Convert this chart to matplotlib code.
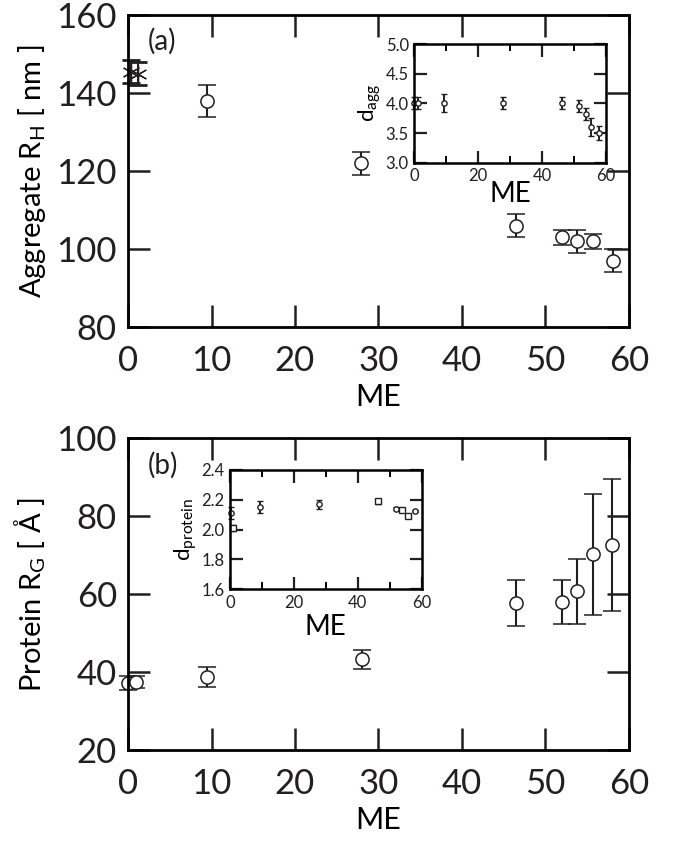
import matplotlib
matplotlib.use("Agg")
import matplotlib.pyplot as plt

plt.rcParams.update({
    "font.family": ["Lato", "DejaVu Sans"],
    "mathtext.fontset": "custom",
    "mathtext.rm": "Lato",
    "mathtext.it": "Lato:italic",
    "axes.linewidth": 2.0,
    "text.color": "#231f20",
})
INK = "#231f20"

# (a) aggregate hydrodynamic radius vs ME
me_star = [0.3, 1.2]
rh_star = [145.5, 145.0]
rh_star_err = [3.0, 3.0]
me_a = [9.4, 27.9, 46.5, 52.0, 53.8, 55.7, 58.1]
rh = [138.0, 122.0, 106.0, 103.0, 102.0, 102.0, 97.0]
rh_err = [4.0, 3.0, 3.0, 2.0, 3.0, 2.0, 3.0]

# inset (a): aggregate fractal dimension
me_ia = [0.0, 1.0, 9.3, 27.8, 46.1, 51.6, 53.6, 55.3, 57.7]
d_agg = [4.0, 4.0, 4.0, 4.0, 4.0, 3.95, 3.82, 3.6, 3.5]
d_agg_err = [0.1, 0.1, 0.15, 0.1, 0.1, 0.1, 0.1, 0.15, 0.12]

# (b) protein radius of gyration vs ME
me_b = [0.0, 1.0, 9.4, 28.0, 46.5, 52.0, 53.8, 55.7, 58.0]
rg = [37.3, 37.5, 38.8, 43.3, 57.8, 58.0, 60.8, 70.3, 72.6]
rg_err = [1.8, 1.5, 2.5, 2.5, 5.8, 5.7, 8.3, 15.5, 17.0]

# inset (b): protein fractal dimension
me_ib = [0.2, 1.0, 9.4, 27.8, 46.4, 52.0, 53.7, 55.6, 57.9]
d_prot = [2.11, 2.01, 2.15, 2.17, 2.19, 2.14, 2.13, 2.09, 2.125]
d_prot_err = [0.04, 0.02, 0.04, 0.03, 0.015, 0.01, 0.01, 0.01, 0.01]
d_prot_mk = ["o", "s", "o", "o", "s", "o", "s", "s", "o"]


def style_main(ax, ylim, yticks):
    ax.set_xlim(0, 60)
    ax.set_ylim(*ylim)
    ax.set_xticks(range(0, 61, 10))
    ax.set_yticks(yticks)
    ax.tick_params(direction="in", length=16, width=1.8, top=True, right=True,
                   labelsize=25, colors=INK, pad=8)
    ax.tick_params(axis="x", pad=13)
    ax.set_xlabel("ME", fontsize=22, labelpad=4)


def style_inset(ax, ylim, yticks):
    ax.set_xlim(0, 60)
    ax.set_ylim(*ylim)
    ax.set_xticks([0, 20, 40, 60])
    ax.set_xticks([10, 30, 50], minor=True)
    ax.set_yticks(yticks)
    ax.tick_params(direction="in", length=9, width=1.6, top=True, right=True,
                   labelsize=12, colors=INK, pad=4)
    ax.tick_params(which="minor", direction="in", length=5, width=1.4, top=True)
    for s in ax.spines.values():
        s.set_linewidth(1.8)


fig = plt.figure(figsize=(6.74, 8.43), dpi=100)

# ---- panel (a)
ax1 = fig.add_axes([0.190, 0.612, 0.743, 0.370])
ax1.errorbar(me_star, rh_star, yerr=rh_star_err, fmt="none", ecolor=INK,
             elinewidth=1.5, capsize=6.5, capthick=2, clip_on=False)
ax1.plot(me_star, rh_star, ls="none", marker=(6, 2, 0), ms=13, mec=INK,
         mew=0.9, clip_on=False)
ax1.errorbar(me_a, rh, yerr=rh_err, fmt="o", ms=9.5, mfc="white", mec=INK,
             mew=1.1, ecolor=INK, elinewidth=1.5, capsize=6.5, capthick=2)
style_main(ax1, (80, 160), range(80, 161, 20))
ax1.set_ylabel("Aggregate R$_\\mathrm{H}$ [ nm ]", fontsize=21, labelpad=6)
ax1.text(0.04, 0.915, "(a)", transform=ax1.transAxes, fontsize=20, va="center")

ins1 = fig.add_axes([0.6147, 0.807, 0.2844, 0.1408])
for x, y, e in zip(me_ia, d_agg, d_agg_err):
    ins1.errorbar(x, y, yerr=e, fmt="o", ms=3.8, mfc="white", mec=INK, mew=1,
                  ecolor=INK, elinewidth=1.4, capsize=2.5, capthick=1.8,
                  clip_on=False)
style_inset(ins1, (3.0, 5.0), [3.0, 3.5, 4.0, 4.5, 5.0])
ins1.set_yticklabels(["3.0", "3.5", "4.0", "4.5", "5.0"])
ins1.set_ylabel("d$_\\mathrm{agg}$", fontsize=16, labelpad=2)
ins1.set_xlabel("ME", fontsize=20, labelpad=-2)

# ---- panel (b)
ax2 = fig.add_axes([0.190, 0.110, 0.743, 0.370])
ax2.errorbar(me_b, rg, yerr=rg_err, fmt="o", ms=9.5, mfc="white", mec=INK,
             mew=1.1, ecolor=INK, elinewidth=1.5, capsize=6.5, capthick=2,
             clip_on=False)
style_main(ax2, (20, 100), range(20, 101, 20))
ax2.set_ylabel("Protein R$_\\mathrm{G}$ [ Å ]", fontsize=21, labelpad=6)
ax2.text(0.04, 0.915, "(b)", transform=ax2.transAxes, fontsize=20, va="center")

ins2 = fig.add_axes([0.3412, 0.3009, 0.2844, 0.1416])
for x, y, e, m in zip(me_ib, d_prot, d_prot_err, d_prot_mk):
    ins2.errorbar(x, y, yerr=e, fmt=m, ms=3.8, mfc="white", mec=INK, mew=1,
                  ecolor=INK, elinewidth=1.4, capsize=2.5, capthick=1.8,
                  clip_on=False)
style_inset(ins2, (1.6, 2.4), [1.6, 1.8, 2.0, 2.2, 2.4])
ins2.set_yticklabels(["1.6", "1.8", "2.0", "2.2", "2.4"])
ins2.set_ylabel("d$_\\mathrm{protein}$", fontsize=16, labelpad=2)
ins2.set_xlabel("ME", fontsize=20, labelpad=2)

fig.savefig("out.png", dpi=100)
